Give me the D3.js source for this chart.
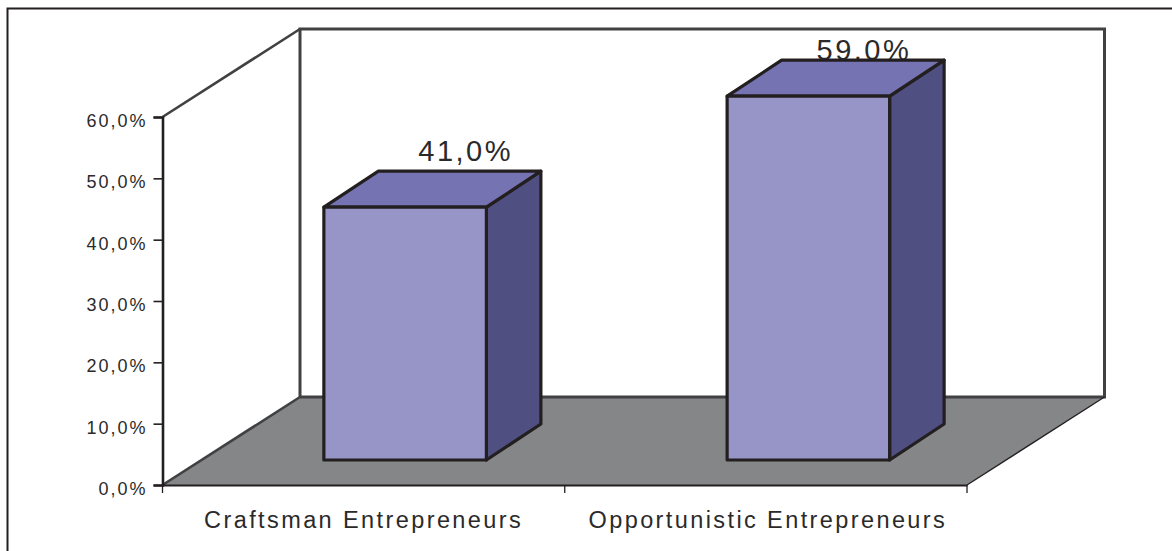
<!DOCTYPE html>
<html><head><meta charset="utf-8">
<script src="https://cdnjs.cloudflare.com/ajax/libs/d3/7.8.5/d3.min.js"></script>
<style>html,body{margin:0;padding:0;background:#fff}svg{display:block}text{font-family:"Liberation Sans",Arial,sans-serif;fill:#2b2a2b}</style>
</head><body><svg id="c" width="1172" height="551"></svg>
<script>
const categories = ["Craftsman Entrepreneurs", "Opportunistic Entrepreneurs"];
const values = [41.0, 59.0];
const valueLabels = ["41,0%", "59,0%"];
const yTicks = [0, 10, 20, 30, 40, 50, 60];
const yTickLabels = ["0,0%", "10,0%", "20,0%", "30,0%", "40,0%", "50,0%", "60,0%"];

const svg = d3.select("#c");
const X0 = 162.5, X1 = 967, Y0 = 485, Y60 = 117;
const depthX = 137.5, depthY = -88;
const y = d3.scaleLinear().domain([0, 60]).range([Y0, Y60]);
const x = d3.scaleBand().domain(categories).range([X0, X1]);
const barY = d3.scaleLinear().domain([0, 60]).range([460, 90]);
const barW = 162.5, bdx = 54.5, bdy = -36;
const barShift = [41.5, 42.5];
const labelShift = [60.5, 55.5];
const labelGap = [10, 0];
const barCx = i => x(categories[i]) + x.bandwidth() / 2 + barShift[i];
const line = d3.line();

svg.append("path").attr("d", "M7.5,551V8.5H1172").attr("fill", "none").attr("stroke", "#231f20").attr("stroke-width", 2);

// floor
svg.append("path").attr("d", line([[X0, Y0], [X0 + depthX, Y0 + depthY], [X1 + depthX, Y0 + depthY], [X1, Y0]]) + "Z")
  .attr("fill", "#858688");
// back & side walls
svg.append("path").attr("d", line([[X0 + depthX, Y0 + depthY], [X1 + depthX, Y0 + depthY], [X1 + depthX, Y60 + depthY], [X0 + depthX, Y60 + depthY], [X0 + depthX, Y0 + depthY]]))
  .attr("fill", "#fff").attr("stroke", "#414042").attr("stroke-width", 3);
svg.append("path").attr("d", line([[X0, Y0], [X0 + depthX, Y0 + depthY]])).attr("stroke", "#414042").attr("stroke-width", 2.6).attr("fill", "none");
svg.append("path").attr("d", line([[X0, Y60], [X0 + depthX, Y60 + depthY]])).attr("stroke", "#414042").attr("stroke-width", 2.6).attr("fill", "none");
svg.append("path").attr("d", line([[X1, Y0], [X1 + depthX, Y0 + depthY]])).attr("stroke", "#231f20").attr("stroke-width", 1.3).attr("fill", "none");

// axes
const yAxis = d3.axisLeft(y).tickValues(yTicks).tickSize(9).tickPadding(6).tickFormat((d, i) => yTickLabels[i]);
const gy = svg.append("g").attr("transform", `translate(${X0},0)`).call(yAxis);
gy.select(".domain").attr("stroke", "#231f20").attr("stroke-width", 2.6);
gy.selectAll(".tick line").attr("stroke", "#231f20").attr("stroke-width", 1.6);
gy.selectAll("text").attr("font-size", 18).attr("letter-spacing", 2)
  .attr("font-family", '"Liberation Sans"').attr("fill", "#2b2a2b").attr("dy", "0.52em");

const xAxis = d3.axisBottom(x).tickValues([]).tickSizeOuter(0);
const gx = svg.append("g").attr("transform", `translate(0,${Y0})`).call(xAxis);
gx.select(".domain").attr("stroke", "#231f20").attr("stroke-width", 2);
const xEdges = [X0, X0 + x.bandwidth(), X1];
svg.selectAll(".xt").data(xEdges).join("line").attr("class", "xt")
  .attr("x1", d => d).attr("x2", d => d).attr("y1", Y0).attr("y2", Y0 + 8)
  .attr("stroke", "#231f20").attr("stroke-width", 1.3);
svg.selectAll(".xl").data(categories).join("text").attr("class", "xl")
  .attr("x", (d, i) => x(d) + x.bandwidth() / 2 + i * 2).attr("y", 528)
  .attr("text-anchor", "middle").attr("font-size", 23.5).attr("letter-spacing", 2.4).text(d => d);

// value labels (behind bars)
const data = categories.map((c, i) => ({ c, i, v: values[i], l: valueLabels[i] }));
svg.selectAll(".vl").data(data).join("text").attr("class", "vl")
  .attr("x", d => barCx(d.i) + labelShift[d.i]).attr("y", d => barY(d.v) + bdy - labelGap[d.i])
  .attr("text-anchor", "middle").attr("font-size", 29).attr("letter-spacing", 2.5).text(d => d.l);

// bars
const g = svg.selectAll(".bar").data(data).join("g").attr("class", "bar");
const st = s => s.attr("stroke", "#231f20").attr("stroke-width", 3.2).attr("stroke-linejoin", "round");
g.each(function (d) {
  const s = d3.select(this), cx = barCx(d.i), L = cx - barW / 2, R = cx + barW / 2, T = barY(d.v), B = barY(0);
  s.append("path").attr("d", line([[R, T], [R + bdx, T + bdy], [R + bdx, B + bdy], [R, B]]) + "Z").attr("fill", "#4f4f82").call(st);
  s.append("path").attr("d", line([[L, T], [L + bdx, T + bdy], [R + bdx, T + bdy], [R, T]]) + "Z").attr("fill", "#7573b1").call(st);
  s.append("rect").attr("x", L).attr("y", T).attr("width", barW).attr("height", B - T).attr("fill", "#9795c7").call(st);
});
</script></body></html>
